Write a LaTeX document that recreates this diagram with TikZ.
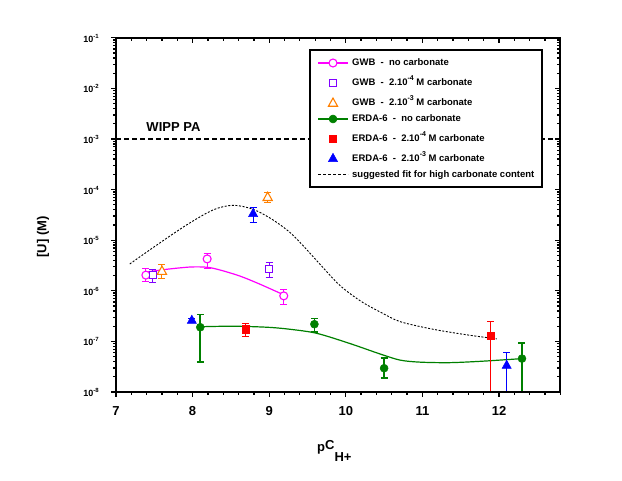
\documentclass[tikz,border=0pt]{standalone}
\usepackage{fontspec}
\setmainfont{Liberation Sans}
\usetikzlibrary{positioning}

\definecolor{gwbpink}{RGB}{255,0,255}
\definecolor{gwbviolet}{RGB}{128,0,255}
\definecolor{gwborange}{RGB}{255,128,0}
\definecolor{erdagreen}{RGB}{0,128,0}
\definecolor{erdared}{RGB}{255,0,0}
\definecolor{erdablue}{RGB}{0,0,255}

\tikzset{
  frame/.style={line width=2.4pt},
  tickmark/.style={line width=1.3pt},
  fitline/.style={line width=1.2pt},
  guessline/.style={line width=0.9pt,dash pattern=on 2pt off 1.6pt},
  wipp/.style={line width=1.2pt,dash pattern=on 4.5pt off 3.5pt},
  errbar/.style={line width=1pt},
  openmark/.style={line width=1.1pt,fill=white},
  fullmark/.style={line width=0.5pt},
  xticklabel/.style={font=\bfseries\fontsize{13}{13}\selectfont,inner sep=0pt},
  yticklabel/.style={font=\bfseries\fontsize{9}{9}\selectfont,inner sep=0pt,anchor=base east},
  axlabel/.style={font=\bfseries\fontsize{13}{13}\selectfont,inner sep=0pt},
  legtext/.style={font=\bfseries\fontsize{9.5}{9.5}\selectfont,inner sep=0pt,anchor=base west},
}

% error bar: colour, x, low, high
\newcommand{\ebar}[4]{\draw[errbar,#1] (#2,#3) -- (#2,#4)
  (#2,#3) ++(-3.5pt,0) -- ++(7pt,0) (#2,#4) ++(-3.5pt,0) -- ++(7pt,0);}
\newcommand{\mcirc}[3]{\draw[#1] (#2,#3) circle (4pt);}
\newcommand{\msq}[3]{\draw[#1] (#2,#3) ++(-3.7pt,-3.7pt) rectangle ++(7.4pt,7.4pt);}
\newcommand{\mtri}[3]{\draw[#1] (#2,#3) ++(0,5pt) -- ++(-4.6pt,-8.3pt) -- ++(9.2pt,0) -- cycle;}
\newcommand{\supx}[1]{\raisebox{5pt}{\fontsize{7}{7}\selectfont #1}}
\newcommand{\ysup}[1]{\raisebox{4pt}{\fontsize{6}{6}\selectfont #1}}

\begin{document}
\begin{tikzpicture}[x=1pt,y=1pt]
\useasboundingbox (0,0) rectangle (622,480);

% plot area: x = pC_H+, y = log10 [U]
\begin{scope}[x=76.6pt,y=50.6pt,shift={(-420.2pt,492.8pt)}]

  % WIPP PA level
  \draw[wipp] (7,-3) -- (12.8,-3);
  \node[axlabel] (wipp) at (7.75,-2.76) {WIPP PA};

  % fits
  \draw[guessline] plot[smooth] coordinates {(7.18,-5.47) (7.49,-5.14) (7.92,-4.70) (8.27,-4.40)
    (8.53,-4.31) (8.79,-4.39) (9.05,-4.60) (9.31,-4.90) (9.66,-5.47) (9.92,-5.89) (10.19,-6.20)
    (10.45,-6.42) (10.71,-6.61) (11.14,-6.76) (11.58,-6.87) (11.97,-6.95)};
  \draw[fitline,gwbpink] plot[smooth] coordinates {(7.39,-5.63) (7.66,-5.575) (7.97,-5.53)
    (8.19,-5.535) (8.36,-5.59) (8.62,-5.71) (8.88,-5.87) (9.19,-6.08)};
  \draw[fitline,erdagreen] plot[smooth] coordinates {(8.10,-6.71) (8.53,-6.70) (8.97,-6.72)
    (9.27,-6.76) (9.62,-6.84) (10.05,-7.04) (10.45,-7.25) (10.71,-7.37) (10.97,-7.41)
    (11.36,-7.42) (11.80,-7.39) (12.30,-7.34)};

  % error bars
  \ebar{gwbpink}{7.39}{-5.82}{-5.55}
  \ebar{gwbpink}{8.19}{-5.56}{-5.26}
  \ebar{gwbpink}{9.19}{-6.28}{-5.98}
  \ebar{gwbviolet}{7.48}{-5.83}{-5.57}
  \ebar{gwbviolet}{9.00}{-5.73}{-5.45}
  \ebar{gwborange}{7.60}{-5.75}{-5.49}
  \ebar{gwborange}{8.98}{-4.26}{-4.06}
  \ebar{erdagreen,line width=1.6pt}{8.10}{-7.41}{-6.47}
  \ebar{erdagreen,line width=1.6pt}{9.59}{-6.81}{-6.55}
  \ebar{erdagreen,line width=1.6pt}{10.50}{-7.72}{-7.33}
  \ebar{erdagreen,line width=1.6pt}{12.30}{-8}{-7.03}
  \ebar{erdared}{8.69}{-6.91}{-6.65}
  \ebar{erdared}{11.89}{-8}{-6.60}
  \ebar{erdablue}{7.99}{-6.62}{-6.54}
  \ebar{erdablue}{8.79}{-4.65}{-4.36}
  \ebar{erdablue}{12.10}{-8}{-7.22}

  % markers
  \mcirc{openmark,draw=gwbpink}{7.39}{-5.69}
  \mcirc{openmark,draw=gwbpink}{8.19}{-5.37}
  \mcirc{openmark,draw=gwbpink}{9.19}{-6.10}
  \msq{openmark,draw=gwbviolet}{7.48}{-5.69}
  \msq{openmark,draw=gwbviolet}{9.00}{-5.57}
  \mtri{openmark,draw=gwborange}{7.60}{-5.61}
  \mtri{openmark,draw=gwborange}{8.98}{-4.15}
  \mcirc{fullmark,draw=erdagreen,fill=erdagreen}{8.10}{-6.72}
  \mcirc{fullmark,draw=erdagreen,fill=erdagreen}{9.59}{-6.66}
  \mcirc{fullmark,draw=erdagreen,fill=erdagreen}{10.50}{-7.53}
  \mcirc{fullmark,draw=erdagreen,fill=erdagreen}{12.30}{-7.34}
  \msq{fullmark,draw=erdared,fill=erdared}{8.69}{-6.76}
  \msq{fullmark,draw=erdared,fill=erdared}{11.89}{-6.89}
  \mtri{fullmark,draw=erdablue,fill=erdablue}{7.99}{-6.58}
  \mtri{fullmark,draw=erdablue,fill=erdablue}{8.79}{-4.47}
  \mtri{fullmark,draw=erdablue,fill=erdablue}{12.10}{-7.47}

  % ticks, bottom and top
  \foreach \t in {7,...,12} {
    \draw[tickmark] (\t,-8) -- ++(0,-5pt);
    \draw[tickmark] (\t,-1) -- ++(0,-5pt);
    \foreach \s in {0.2,0.4,0.6,0.8} {
      \draw[tickmark] ({\t+\s},-8) -- ++(0,-3pt);
      \draw[tickmark] ({\t+\s},-1) -- ++(0,-3pt);
    }
    \node[xticklabel] (xl\t) at (\t,-8) [yshift=-19pt] {\t};
  }
  % ticks, left and right
  \foreach \d in {-8,...,-1} {
    \draw[tickmark] (7,\d) -- ++(-5pt,0);
    \draw[tickmark] (12.8,\d) -- ++(-5pt,0);
    \node[yticklabel] (yl\d) at (7,\d) [xshift=-17pt,yshift=-4.5pt] {10\ysup{\d}};
  }
  \foreach \d in {-8,...,-2} {
    \foreach \m in {2,...,9} {
      \draw[tickmark] (7,{\d+log10(\m)}) -- ++(-3pt,0);
      \draw[tickmark] (12.8,{\d+log10(\m)}) -- ++(-3pt,0);
    }
  }

  % frame
  \draw[frame] (7,-8) rectangle (12.8,-1);
\end{scope}

% axis titles
\node[axlabel,anchor=base west] (xtitle) at (317,28.3)
  {p\raisebox{2.5pt}{C}\raisebox{-10pt}{H+}};
\node[axlabel,rotate=90] (ytitle) at (43,243) {[U] (M)};

% legend
\draw[line width=1.6pt,fill=white] (310,293) rectangle (542,430);
\draw[fitline,gwbpink] (318,417) -- (348,417);
\mcirc{openmark,draw=gwbpink}{333}{417}
\node[legtext] (lg1) at (352,414) {GWB\ \ -\ \ no carbonate};
\msq{openmark,draw=gwbviolet}{333}{397}
\node[legtext] (lg2) at (352,394) {GWB\ \ -\ \ 2.10\supx{-4}\ M carbonate};
\mtri{openmark,draw=gwborange}{333}{377}
\node[legtext] (lg3) at (352,374) {GWB\ \ -\ \ 2.10\supx{-3}\ M carbonate};
\draw[fitline,erdagreen] (318,361) -- (348,361);
\mcirc{fullmark,draw=erdagreen,fill=erdagreen}{333}{361}
\node[legtext] (lg4) at (352,358) {ERDA-6\ \ -\ \ no carbonate};
\msq{fullmark,draw=erdared,fill=erdared}{333}{341}
\node[legtext] (lg5) at (352,338) {ERDA-6\ \ -\ \ 2.10\supx{-4}\ M carbonate};
\mtri{fullmark,draw=erdablue,fill=erdablue}{333}{321.7}
\node[legtext] (lg6) at (352,318.7) {ERDA-6\ \ -\ \ 2.10\supx{-3}\ M carbonate};
\draw[line width=0.8pt,dash pattern=on 3pt off 2pt] (318,305.3) -- (348,305.3);
\node[legtext] (lg7) at (352,302.3) {suggested fit for high carbonate content};

\end{tikzpicture}
\end{document}
